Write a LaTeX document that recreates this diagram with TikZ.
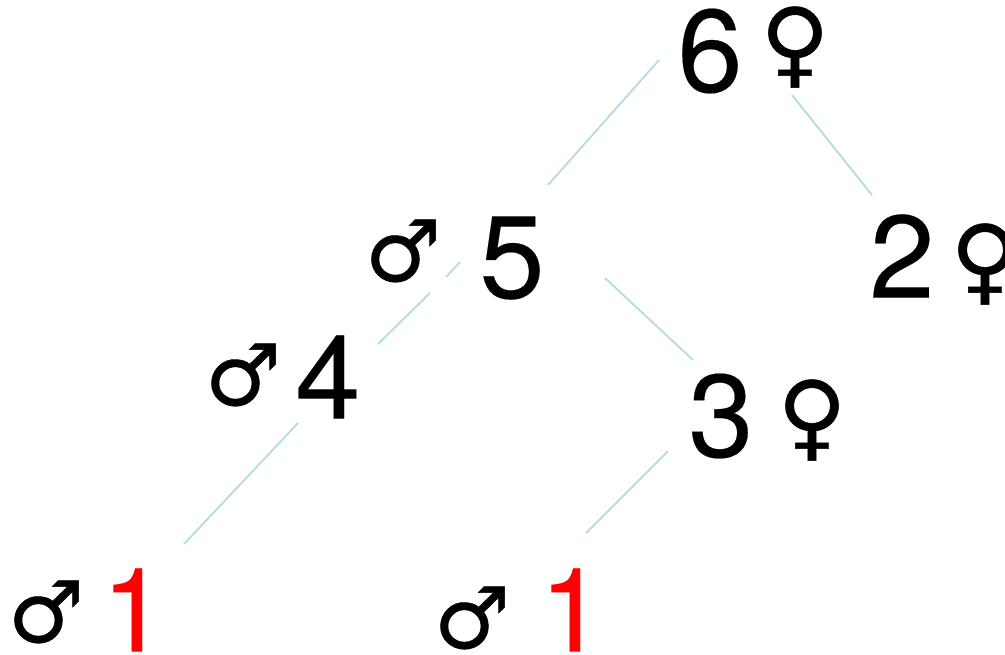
\documentclass[tikz,border=0pt]{standalone}
\usepackage{fontspec}
\setmainfont{TeX Gyre Heros}[FakeBold=0.15]
\newfontfamily\symfont{DejaVu Sans}[FakeBold=0.5]
\usetikzlibrary{calc}
\definecolor{edgecol}{HTML}{B0DBE0}
\tikzset{
  x=0.75pt,y=-0.75pt,
  num/.style={inner sep=0pt,font=\fontsize{88}{88}\selectfont,text=black},
  rednum/.style={num,text=red},
  fem/.style={inner sep=0pt,font=\symfont\fontsize{71}{71}\selectfont,text=black},
  mal/.style={inner sep=0pt,font=\symfont\fontsize{64}{64}\selectfont,text=black},
  edge/.style={draw=edgecol,line width=1.3pt}
}
\begin{document}
\begin{tikzpicture}
\useasboundingbox (0,0) rectangle (1005,654);
\node[num] (n6) at (710,51) {6};
\node[num] (n5) at (512,258) {5};
\node[num] (n2) at (902,256) {2};
\node[num] (n4) at (328,377) {4};
\node[num] (n3) at (721,416) {3};
\node[rednum] (a1) at (134,610) {1};
\node[rednum] (b1) at (572,610) {1};
\node[fem] (s6) at (795,47) {♀};
\node[fem] (s2) at (985,264) {♀};
\node[fem] (s3) at (812,420) {♀};
\node[mal] (s5) at (403,251) {♂};
\node[mal] (s4) at (243,375) {♂};
\node[mal] (sa) at (46,612) {♂};
\node[mal] (sb) at (472,618) {♂};
\draw[edge] ($(n6)+(-51,9)$) -- ($(n5)+(36,-73)$);
\draw[edge] ($(n6)+(82,44)$) -- ($(n2)+(-30,-61)$);
\draw[edge] ($(n5)+(-52,4)$) -- ($(n5)+(-66,19)$);
\draw[edge] ($(n5)+(-82,35)$) -- ($(n4)+(50,-33)$);
\draw[edge] ($(n5)+(93,20)$) -- ($(n3)+(-28,-56)$);
\draw[edge] ($(n4)+(-30,46)$) -- ($(a1)+(50,-66)$);
\draw[edge] ($(n3)+(-53,35)$) -- ($(b1)+(14,-77)$);
\end{tikzpicture}
\end{document}
